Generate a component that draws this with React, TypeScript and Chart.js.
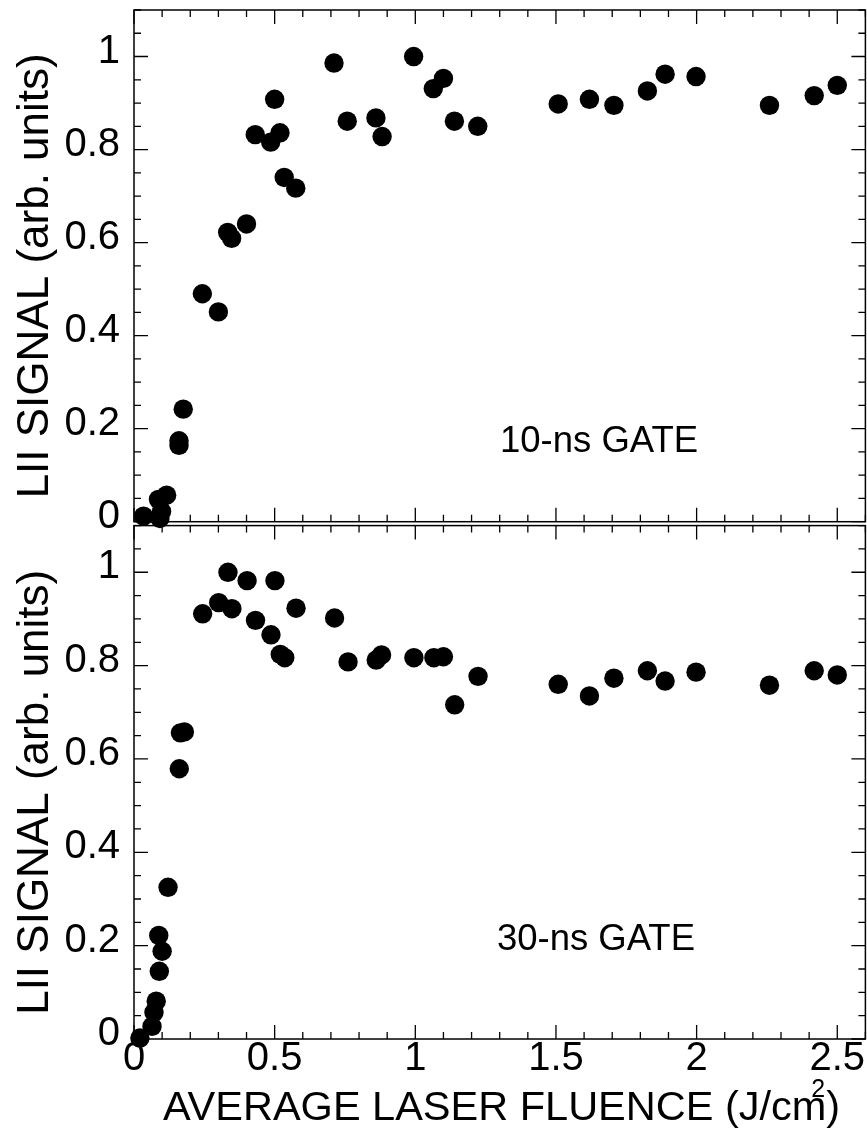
import React, { useEffect, useRef } from 'react';
import { Chart, registerables } from 'chart.js';

Chart.register(...registerables);

const FONT = '"Liberation Sans", Arial, Helvetica, sans-serif';

// Axis ranges and tick labels
const X_MIN = 0;
const X_MAX = 2.6;
const Y_MIN = 0;
const Y_MAX = 1.1;
const X_TICKS = [0, 0.5, 1, 1.5, 2, 2.5];
const X_TICK_LABELS = ['0', '0.5', '1', '1.5', '2', '2.5'];
const Y_TICKS = [0, 0.2, 0.4, 0.6, 0.8, 1];
const Y_TICK_LABELS = ['0', '0.2', '0.4', '0.6', '0.8', '1'];
const X_MINOR_STEP = 0.1;
const Y_MINOR_STEP = 0.05;

const X_TITLE_MAIN = 'AVERAGE LASER FLUENCE (J/cm';
const X_TITLE_SUP = '2';
const X_TITLE_END = ')';
const Y_TITLE = 'LII SIGNAL (arb. units)';

// 10-ns gate (top panel)
const GATE10_LABEL = '10-ns GATE';
const GATE10_X = [
  0.034, 0.087, 0.116, 0.098, 0.092, 0.16, 0.16, 0.175, 0.243, 0.3,
  0.333, 0.347, 0.4, 0.431, 0.486, 0.5, 0.519, 0.534, 0.575, 0.711,
  0.758, 0.86, 0.882, 0.994, 1.064, 1.1, 1.139, 1.222, 1.508, 1.619,
  1.706, 1.825, 1.888, 1.998, 2.259, 2.418, 2.5,
];
const GATE10_Y = [
  0.012, 0.048, 0.057, 0.022, 0.007, 0.174, 0.164, 0.242, 0.49, 0.451,
  0.622, 0.609, 0.64, 0.832, 0.816, 0.908, 0.836, 0.74, 0.717, 0.986,
  0.861, 0.868, 0.828, 1.0, 0.931, 0.953, 0.861, 0.85, 0.898, 0.908,
  0.895, 0.926, 0.962, 0.957, 0.895, 0.916, 0.938,
];

// 30-ns gate (bottom panel)
const GATE30_LABEL = '30-ns GATE';
const GATE30_X = [
  0.021, 0.064, 0.071, 0.079, 0.09, 0.1, 0.088, 0.121, 0.161, 0.165,
  0.179, 0.244, 0.301, 0.334, 0.348, 0.402, 0.432, 0.487, 0.501, 0.52,
  0.536, 0.576, 0.713, 0.761, 0.861, 0.88, 0.995, 1.066, 1.1, 1.14,
  1.223, 1.508, 1.619, 1.706, 1.825, 1.888, 1.998, 2.259, 2.418, 2.5,
];
const GATE30_Y = [
  0.002, 0.027, 0.057, 0.081, 0.145, 0.188, 0.222, 0.325, 0.579, 0.656,
  0.658, 0.911, 0.935, 1.0, 0.922, 0.982, 0.897, 0.866, 0.982, 0.824,
  0.817, 0.923, 0.902, 0.808, 0.812, 0.823, 0.817, 0.817, 0.819, 0.716,
  0.777, 0.76, 0.735, 0.773, 0.789, 0.767, 0.786, 0.758, 0.789, 0.78,
];

function labelFor(values: number[], labels: string[], v: number): string {
  const i = values.findIndex((t) => Math.abs(t - v) < 1e-6);
  return i >= 0 ? labels[i] : '';
}

function zeroPadding(s: any) {
  s.paddingTop = 0;
  s.paddingBottom = 0;
  s.paddingLeft = 0;
  s.paddingRight = 0;
}

const frameTicks = {
  id: 'frameTicks',
  beforeDatasetsDraw(chart: any) {
    const { ctx, chartArea: a, scales } = chart;
    const x = scales.x;
    const y = scales.y;
    ctx.save();
    ctx.strokeStyle = '#000';
    ctx.lineWidth = 1.5;
    ctx.strokeRect(a.left, a.top, a.right - a.left, a.bottom - a.top);
    ctx.lineWidth = 1.3;
    ctx.beginPath();
    const nx = Math.round((X_MAX - X_MIN) / X_MINOR_STEP);
    for (let i = 0; i <= nx; i++) {
      const v = X_MIN + i * X_MINOR_STEP;
      const major = X_TICKS.some((t) => Math.abs(t - v) < 1e-6);
      const len = major ? 14 : 7;
      const px = x.getPixelForValue(v);
      ctx.moveTo(px, a.top);
      ctx.lineTo(px, a.top + len);
      ctx.moveTo(px, a.bottom);
      ctx.lineTo(px, a.bottom - len);
    }
    const ny = Math.round((Y_MAX - Y_MIN) / Y_MINOR_STEP);
    for (let i = 0; i <= ny; i++) {
      const v = Y_MIN + i * Y_MINOR_STEP;
      const major = Y_TICKS.some((t) => Math.abs(t - v) < 1e-6);
      const len = major ? 14 : 7;
      const py = y.getPixelForValue(v);
      ctx.moveTo(a.left, py);
      ctx.lineTo(a.left + len, py);
      ctx.moveTo(a.right, py);
      ctx.lineTo(a.right - len, py);
    }
    ctx.stroke();
    ctx.restore();
  },
  afterDraw(chart: any, _args: any, opts: any) {
    const { ctx, chartArea: a, scales } = chart;
    const x = scales.x;
    const y = scales.y;
    ctx.save();
    ctx.fillStyle = '#000';
    // y title
    ctx.save();
    ctx.font = `44px ${FONT}`;
    ctx.translate(48, (a.top + a.bottom) / 2 + 10);
    ctx.rotate(-Math.PI / 2);
    ctx.textAlign = 'center';
    ctx.textBaseline = 'alphabetic';
    ctx.fillText(Y_TITLE, 0, 0);
    ctx.restore();
    // gate annotation
    ctx.font = `36.5px ${FONT}`;
    ctx.textAlign = 'left';
    ctx.textBaseline = 'alphabetic';
    ctx.fillText(opts.label, x.getPixelForValue(opts.labelX), y.getPixelForValue(opts.labelY));
    // x title
    if (opts.xTitle) {
      ctx.font = `41.5px ${FONT}`;
      const left = a.left + 29;
      const base = a.bottom + 81;
      const w1 = ctx.measureText(X_TITLE_MAIN).width;
      ctx.fillText(X_TITLE_MAIN + X_TITLE_END, left, base);
      ctx.font = `25px ${FONT}`;
      ctx.fillText(X_TITLE_SUP, left + w1 - 15, a.bottom + 58);
    }
    ctx.restore();
  },
};

function buildConfig(xs: number[], ys: number[], p: any): any {
  const data = xs.map((v, i) => ({ x: v, y: ys[i] }));
  return {
    type: 'scatter',
    data: {
      datasets: [
        {
          data,
          showLine: false,
          pointRadius: 9.7,
          pointHoverRadius: 9.7,
          pointBackgroundColor: '#000',
          pointBorderColor: '#000',
          pointBorderWidth: 0,
          clip: false,
        },
      ],
    },
    options: {
      animation: false,
      responsive: false,
      devicePixelRatio: 1,
      events: [],
      layout: {
        autoPadding: false,
        padding: { top: p.padTop, bottom: p.padBottom, left: 0, right: 1.6 },
      },
      plugins: {
        legend: { display: false },
        tooltip: { enabled: false },
        frameTicks: { label: p.label, labelX: p.labelX, labelY: p.labelY, xTitle: p.xTitle },
      },
      scales: {
        x: {
          type: 'linear',
          min: X_MIN,
          max: X_MAX,
          afterBuildTicks: (s: any) => {
            s.ticks = X_TICKS.map((v) => ({ value: v }));
          },
          afterFit: (s: any) => {
            s.height = p.xHeight;
            zeroPadding(s);
          },
          grid: { display: false, drawTicks: false },
          border: { display: false },
          ticks: {
            display: p.showX,
            autoSkip: false,
            maxRotation: 0,
            minRotation: 0,
            padding: 0,
            color: '#000',
            font: { family: FONT, size: 40, lineHeight: 1 },
            callback: (v: number) => labelFor(X_TICKS, X_TICK_LABELS, v),
          },
        },
        y: {
          type: 'linear',
          min: Y_MIN,
          max: Y_MAX,
          afterBuildTicks: (s: any) => {
            s.ticks = Y_TICKS.map((v) => ({ value: v }));
          },
          afterFit: (s: any) => {
            s.width = 134;
            zeroPadding(s);
          },
          grid: { display: false, drawTicks: false },
          border: { display: false },
          ticks: {
            autoSkip: false,
            padding: 14,
            labelOffset: -5,
            color: '#000',
            font: { family: FONT, size: 40, lineHeight: 1 },
            callback: (v: number) => labelFor(Y_TICKS, Y_TICK_LABELS, v),
          },
        },
      },
    },
    plugins: [frameTicks],
  };
}

export default function App() {
  const topRef = useRef<HTMLCanvasElement>(null);
  const botRef = useRef<HTMLCanvasElement>(null);

  useEffect(() => {
    document.body.style.margin = '0';
    const c1 = new Chart(
      topRef.current as HTMLCanvasElement,
      buildConfig(GATE10_X, GATE10_Y, {
        padTop: 10,
        padBottom: 545 - 521.7,
        xHeight: 0,
        showX: false,
        label: GATE10_LABEL,
        labelX: 1.301,
        labelY: 0.149,
        xTitle: false,
      })
    );
    const c2 = new Chart(
      botRef.current as HTMLCanvasElement,
      buildConfig(GATE30_X, GATE30_Y, {
        padTop: 3.6,
        padBottom: 0,
        xHeight: 89,
        showX: true,
        label: GATE30_LABEL,
        labelX: 1.29,
        labelY: 0.19,
        xTitle: true,
      })
    );
    return () => {
      c1.destroy();
      c2.destroy();
    };
  }, []);

  return (
    <div style={{ position: 'relative', width: 867, height: 1128, background: '#fff' }}>
      <canvas
        ref={topRef}
        width={867}
        height={545}
        style={{ position: 'absolute', left: 0, top: 0, width: 867, height: 545 }}
      />
      <canvas
        ref={botRef}
        width={867}
        height={606}
        style={{ position: 'absolute', left: 0, top: 522, width: 867, height: 606 }}
      />
    </div>
  );
}
